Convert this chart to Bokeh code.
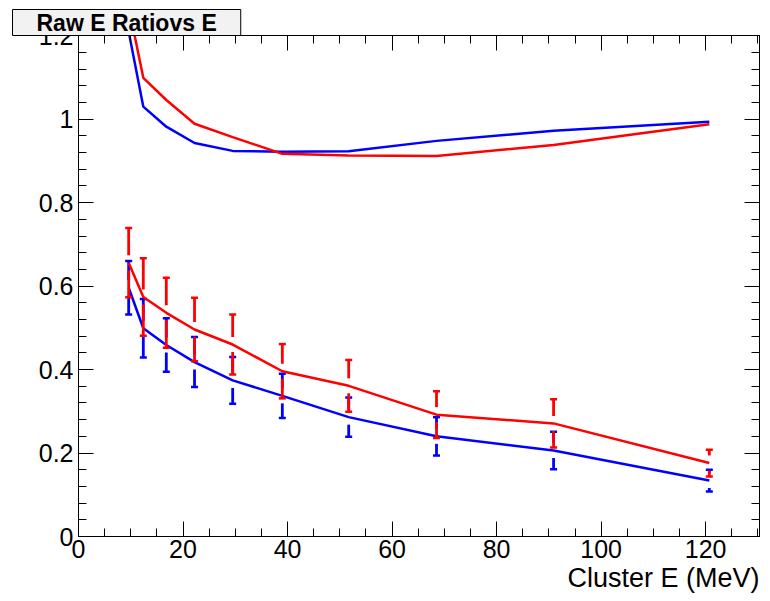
import numpy as np
from bokeh.plotting import figure
from bokeh.models import (Range1d, LinearAxis, SingleIntervalTicker, CustomJSTickFormatter, Title)
from bokeh.embed import file_html
from bokeh.resources import INLINE

# ---------------- data ----------------
energy = [9.6, 12.4, 16.8, 22.2, 29.5, 39.0, 51.7, 68.5, 90.9, 120.7]

blue_mean = [1.21, 1.03, 0.982, 0.943, 0.924, 0.922, 0.923, 0.948, 0.972, 0.994]
red_mean = [1.27, 1.099, 1.046, 0.989, 0.957, 0.917, 0.913, 0.912, 0.938, 0.988]

blue_res = [0.596, 0.499, 0.459, 0.418, 0.374, 0.337, 0.286, 0.240, 0.206, 0.134]
blue_err = [0.064, 0.070, 0.064, 0.060, 0.056, 0.053, 0.047, 0.046, 0.045, 0.026]
red_res = [0.656, 0.574, 0.536, 0.496, 0.460, 0.396, 0.361, 0.292, 0.271, 0.176]
red_err = [0.083, 0.093, 0.084, 0.076, 0.072, 0.065, 0.062, 0.056, 0.058, 0.032]

title_text = "Raw E Ratiovs E"
x_title = "Cluster E (MeV)"

# ---------------- layout ----------------
W, H = 770, 601
F_LEFT, F_RIGHT, F_TOP, F_BOTTOM = 78, 759, 35, 536
X0, X1 = 0.0, 130.3
Y0, Y1 = 0.0, 1.2005
PX_Y = (F_BOTTOM - F_TOP) / (Y1 - Y0)

FONT = "Liberation Sans"

p = figure(width=W, height=H, output_backend="svg", toolbar_location=None,
           x_range=Range1d(X0, X1), y_range=Range1d(Y0, Y1),
           min_border_left=F_LEFT, min_border_right=W - F_RIGHT,
           min_border_top=F_TOP, min_border_bottom=H - F_BOTTOM,
           x_axis_type=None, y_axis_type=None)
p.xgrid.visible = False
p.ygrid.visible = False
p.outline_line_color = "black"
p.outline_line_width = 1
p.background_fill_color = "white"
p.border_fill_color = "white"

p.title = Title(text=title_text, align="left", offset=-66, standoff=0,
                text_font=FONT, text_font_style="bold", text_font_size="23px",
                text_color="black", background_fill_color="#f2f2f2",
                border_line_color="black", border_line_width=1,
                padding=(24, 0))


def style_axis(ax, labels=True):
    ax.axis_line_color = "black"
    ax.axis_line_width = 1
    ax.major_tick_line_color = "black"
    ax.minor_tick_line_color = "black"
    ax.major_tick_in = 15
    ax.major_tick_out = 0
    ax.minor_tick_in = 8
    ax.minor_tick_out = 0
    ax.major_label_text_font = FONT
    ax.major_label_text_font_size = "25px"
    ax.major_label_text_color = "black"
    if not labels:
        ax.formatter = CustomJSTickFormatter(code="return ''")
        ax.major_label_standoff = 0


xb = LinearAxis(ticker=SingleIntervalTicker(interval=20, num_minor_ticks=4))
style_axis(xb)
xb.major_label_standoff = 3
p.add_layout(xb, "below")

# x-axis title: right aligned under the frame
p.add_layout(Title(text=x_title, align="right", standoff=0, offset=0,
                   text_font=FONT, text_font_style="normal", text_font_size="27px",
                   text_color="black"), "below")

yl = LinearAxis(ticker=SingleIntervalTicker(interval=0.2, num_minor_ticks=5))
style_axis(yl)
yl.major_label_standoff = 5
p.add_layout(yl, "left")

xtop = LinearAxis(ticker=SingleIntervalTicker(interval=20, num_minor_ticks=4))
style_axis(xtop, labels=False)
p.add_layout(xtop, "above")

yr = LinearAxis(ticker=SingleIntervalTicker(interval=0.2, num_minor_ticks=5))
style_axis(yr, labels=False)
p.add_layout(yr, "right")

# ---------------- graphs ----------------
GAP = 7.5 / PX_Y
LW = 2.5


def error_graph(x, y, e, color):
    x = np.asarray(x, float)
    y = np.asarray(y, float)
    e = np.asarray(e, float)
    ok = e > GAP
    p.segment(x0=x[ok], y0=(y + GAP)[ok], x1=x[ok], y1=(y + e)[ok],
              line_color=color, line_width=2.8)
    p.segment(x0=x[ok], y0=(y - e)[ok], x1=x[ok], y1=(y - GAP)[ok],
              line_color=color, line_width=2.8)
    p.scatter(x=x, y=y + e, marker="dash", size=7, line_color=color, line_width=LW)
    p.scatter(x=x, y=y - e, marker="dash", size=7, line_color=color, line_width=LW)
    p.line(x, y, line_color=color, line_width=LW)


p.line(energy, blue_mean, line_color="#0000ff", line_width=LW)
p.line(energy, red_mean, line_color="#ff0000", line_width=LW)
error_graph(energy, blue_res, blue_err, "#0000ff")
error_graph(energy, red_res, red_err, "#ff0000")

open("out.html", "w").write(file_html(p, INLINE))
